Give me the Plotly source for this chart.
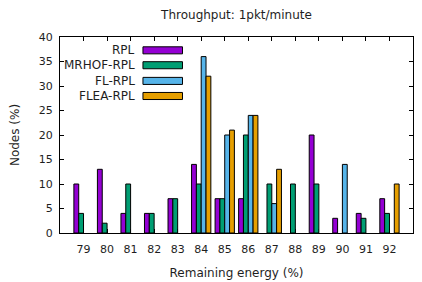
import plotly.graph_objects as go

categories = [79, 80, 81, 82, 83, 84, 85, 86, 87, 88, 89, 90, 91, 92]
rpl = [10, 13, 4, 4, 7, 14, 7, 7, 0, 0, 20, 3, 4, 7]
mrhof_rpl = [4, 2, 10, 4, 7, 10, 7, 20, 10, 10, 10, 0, 3, 4]
fl_rpl = [0, 0, 0, 0, 0, 36, 20, 24, 6, 0, 0, 14, 0, 0]
flea_rpl = [0, 0, 0, 0, 0, 32, 21, 24, 13, 0, 0, 0, 0, 10]
series_names = ["RPL", "MRHOF-RPL", "FL-RPL", "FLEA-RPL"]
series_colors = ["#9400D3", "#009E73", "#56B4E9", "#E69F00"]
series_values = [rpl, mrhof_rpl, fl_rpl, flea_rpl]

FONT = "DejaVu Sans"
TXT = "#1e1e1e"

fig = go.Figure()
for name, color, vals in zip(series_names, series_colors, series_values):
    fig.add_trace(go.Bar(
        x=categories, y=[v if v != 0 else None for v in vals], name=name,
        marker=dict(color=color, line=dict(color="#000000", width=1)),
        showlegend=False,
    ))

# custom legend (text right-aligned, swatch to the right) like gnuplot
row_y = [0.932, 0.856, 0.776, 0.699]
for name, color, yc in zip(series_names, series_colors, row_y):
    fig.add_shape(type="rect", xref="paper", yref="paper",
                  x0=0.235, x1=0.347, y0=yc - 0.018, y1=yc + 0.018,
                  fillcolor=color, line=dict(color="#000000", width=1))
    fig.add_annotation(text=name, xref="paper", yref="paper", x=0.218, y=yc,
                       xanchor="right", yanchor="middle", showarrow=False,
                       font=dict(family=FONT, size=12, color=TXT))

# page body has an 8px margin, so the figure is sized/placed to compensate
fig.update_layout(
    width=414, height=274,
    margin=dict(l=52, r=9, t=29, b=49),
    paper_bgcolor="white", plot_bgcolor="white",
    barmode="group", bargap=0.18, bargroupgap=0,
    font=dict(family=FONT, size=11, color=TXT),
    title=dict(text="Throughput: 1pkt/minute", xref="paper", x=0.5, xanchor="center",
               y=1 - 3 / 274, yanchor="top", automargin=False,
               font=dict(family=FONT, size=12, color=TXT)),
    xaxis=dict(range=[78, 93], tickvals=categories, ticktext=[str(c) for c in categories],
               showgrid=False, zeroline=False, showline=True, linecolor="#000000",
               linewidth=1, mirror="ticks", ticks="inside", ticklen=4,
               tickcolor="#000000", layer="below traces", automargin=False,
               ticklabelstandoff=6, tickfont=dict(family=FONT, size=11, color=TXT),
               title=dict(text="Remaining energy (%)", standoff=13,
                          font=dict(family=FONT, size=12, color=TXT))),
    yaxis=dict(range=[0, 40], tickvals=[0, 5, 10, 15, 20, 25, 30, 35, 40],
               showgrid=False, zeroline=False, showline=True, linecolor="#000000",
               linewidth=1, mirror="ticks", ticks="inside", ticklen=4,
               tickcolor="#000000", automargin=False, ticklabelstandoff=4,
               tickfont=dict(family=FONT, size=11, color=TXT),
               title=dict(text="Nodes (%)", standoff=17,
                          font=dict(family=FONT, size=12, color=TXT))),
)

fig.write_html("out.html")
